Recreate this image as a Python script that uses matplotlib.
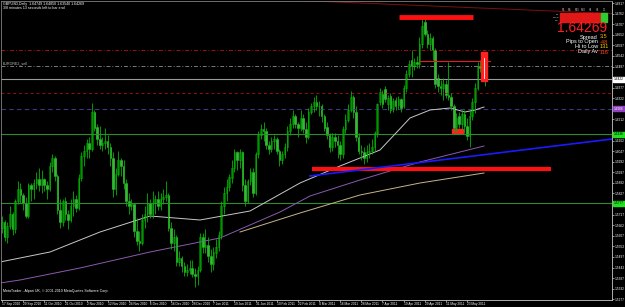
import matplotlib
matplotlib.use("Agg")
import matplotlib.pyplot as plt
from matplotlib.patches import Rectangle
import numpy as np
import pandas as pd

W, H = 625, 307
dates = pd.bdate_range("2010-09-17", "2011-06-01")

# daily prices in pips above 1.0000 (e.g. 5680 -> 1.5680)
open_p = [5650,5680,5600,5660,5720,5640,5790,5850,5820,5780,
 5710,5870,5850,5880,5900,5870,5900,5870,5850,5970,6010,5920,5740,5680,5790,5720,5690,5760,5800,5750,5910,
 6020,6050,6090,6060,6250,6170,6110,6080,6090,6100,6070,6010,5850,5930,6000,5970,5880,5790,5760,5770,5630,5580,
 5570,5690,5720,5780,5720,5780,5800,5760,5800,5810,5820,5650,5570,5600,5470,5490,5450,5420,5430,5440,5410,5400,5430,
 5600,5550,5560,5500,5460,5520,5550,5610,5760,5830,5860,5910,5960,6040,6000,6040,5870,5790,5890,5940,5830,
 6030,6130,6160,6150,6080,6060,6100,6110,6050,6000,6030,6070,6150,6190,6230,6190,6170,6220,6160,6120,
 6250,6280,6300,6280,6280,6230,6170,6130,6070,6120,6100,6080,6030,6160,6210,6260,6330,6250,6120,6050,6040,6010,6040,
 6050,6070,6140,6303,6344,6370,6292,6334,6271,6313,6287,6318,6282,6375,6448,6521,6490,6511,6500,6604,6719,
 6656,6604,6635,6573,6427,6386,6375,6396,6339,6329,6282,6167,6230,6188,6240,6178,6126,6230,6303,6375,6490,6479,
 6469]
high_p = [5710,5690,5680,5760,5730,5800,5890,5880,5830,5810,
 5880,5880,5900,5940,5960,5950,5910,5890,5990,6030,6020,5930,5800,5800,5810,5740,5800,5840,5820,5930,6040,
 6080,6110,6120,6300,6260,6190,6180,6120,6170,6130,6090,6040,5960,6050,6010,6000,5900,5830,5800,5780,5700,5630,
 5720,5760,5830,5800,5840,5820,5840,5830,5850,5890,5830,5680,5640,5610,5530,5500,5470,5460,5480,5480,5440,5450,5620,
 5620,5640,5600,5540,5550,5590,5630,5790,5860,5900,5930,6000,6060,6050,6060,6050,5900,5900,5960,5960,6040,
 6150,6190,6200,6170,6100,6120,6130,6120,6060,6050,6090,6180,6220,6260,6240,6200,6260,6240,6200,6270,
 6300,6330,6340,6310,6290,6240,6200,6140,6140,6140,6130,6100,6180,6240,6290,6360,6340,6280,6140,6080,6070,6080,6090,
 6110,6150,6300,6375,6365,6386,6339,6349,6323,6329,6334,6323,6391,6469,6521,6573,6531,6542,6641,6745,6745,
 6677,6661,6646,6583,6448,6417,6427,6417,6511,6349,6292,6245,6251,6261,6261,6219,6261,6323,6401,6511,6521,6563,
 6511]
low_p = [5620,5580,5570,5640,5610,5620,5770,5780,5740,5700,
 5700,5790,5800,5850,5840,5830,5840,5800,5840,5940,5890,5720,5650,5660,5690,5640,5680,5710,5730,5740,5890,
 5970,6010,6010,6050,6150,6080,6060,6050,6060,6030,5970,5810,5820,5920,5920,5850,5760,5720,5740,5600,5560,5530,
 5560,5650,5680,5700,5700,5720,5740,5740,5770,5790,5630,5540,5530,5450,5450,5420,5400,5400,5410,5390,5340,5350,5420,
 5520,5520,5470,5420,5430,5490,5530,5590,5720,5790,5840,5880,5940,5950,5960,5840,5760,5780,5870,5810,5820,
 6010,6110,6100,6060,6030,6040,6060,6030,5970,5980,6010,6050,6130,6170,6170,6120,6150,6140,6090,6110,
 6240,6250,6260,6230,6200,6150,6110,6040,6050,6070,6010,6000,6010,6140,6200,6250,6220,6100,6030,6000,5980,5990,6010,
 6030,6050,6120,6287,6271,6303,6261,6245,6251,6261,6266,6251,6271,6355,6433,6433,6469,6479,6479,6583,6646,
 6583,6573,6521,6375,6355,6339,6313,6323,6313,6261,6147,6147,6167,6157,6141,6105,6069,6209,6245,6365,6459,6459,
 6386]
close_p = [5680,5600,5660,5720,5640,5790,5850,5820,5780,5710,
 5870,5850,5880,5900,5870,5900,5870,5850,5970,6010,5920,5740,5680,5790,5720,5690,5760,5800,5750,5910,6020,
 6050,6090,6060,6250,6170,6110,6080,6090,6100,6070,6010,5850,5930,6000,5970,5880,5790,5760,5770,5630,5580,5570,
 5690,5720,5780,5720,5780,5800,5760,5800,5810,5820,5650,5570,5600,5470,5490,5450,5420,5430,5440,5410,5400,5430,5600,
 5550,5560,5500,5460,5520,5550,5610,5760,5830,5860,5910,5960,6040,6000,6040,5870,5790,5890,5940,5830,6030,
 6130,6160,6150,6080,6060,6100,6110,6050,6000,6030,6070,6150,6190,6230,6190,6170,6220,6160,6120,6250,
 6280,6300,6280,6280,6230,6170,6130,6070,6120,6100,6080,6030,6160,6210,6260,6330,6250,6120,6050,6040,6010,6040,6050,
 6070,6140,6290,6355,6292,6318,6323,6261,6308,6282,6318,6271,6375,6448,6500,6490,6511,6500,6604,6698,6656,
 6604,6635,6573,6396,6386,6375,6396,6339,6329,6282,6167,6219,6188,6240,6178,6126,6230,6303,6375,6490,6479,6521,
 6422]

# moving averages: (pixel x, pixel y) vertices
ma_grey = [(0, 262), (50, 252), (100, 232), (150, 216), (200, 220), (250, 211), (300, 183),
           (340, 166), (380, 150), (410, 118), (430, 110), (450, 108), (465, 112), (475, 110), (484, 107)]
ma_purple = [(0, 283), (20, 280), (80, 268), (150, 252), (220, 238), (280, 212), (310, 196),
             (360, 180), (420, 162), (484, 146)]
ma_tan = [(240, 232), (300, 213), (360, 195), (420, 183), (484, 173)]

n = min(len(dates), len(close_p), len(open_p), len(high_p), len(low_p))
x = np.arange(n)
o = 1 + np.array(open_p[:n]) / 10000
hi = 1 + np.array(high_p[:n]) / 10000
lo = 1 + np.array(low_p[:n]) / 10000
c = 1 + np.array(close_p[:n]) / 10000

def py(ypix):
    return 1.6833 - 0.00052 * np.asarray(ypix, float)
def bx(xpix):
    return (np.asarray(xpix, float) - 2) / 2.642

plt.rcParams["font.family"] = ["Liberation Sans", "DejaVu Sans"]
fig = plt.figure(figsize=(W/100, H/100), dpi=100, facecolor="black")
ax = fig.add_axes([1/W, 1 - 300/H, 611/W, 299/H], facecolor="black")
ax.set_xlim(bx(1), bx(612))
ax.set_ylim(py(300), py(1))

# horizontal objects
ax.axhline(py(50), color="#9b1010", lw=0.7, ls=(0, (4, 2, 1, 2)))
ax.axhline(py(66), color="#7a7a7a", lw=0.7, ls=(0, (4, 2, 1, 2)))
ax.axhline(py(79), color="#9a9a9a", lw=0.8)
ax.axhline(py(93), color="#9b1010", lw=0.7, ls=(0, (3, 3)))
ax.axhline(py(109), color="#3a3a80", lw=0.8, ls=(0, (4, 3)))
ax.axhline(py(134), color="#2e8b2e", lw=0.8)
ax.axhline(py(203), color="#2e8b2e", lw=0.8)
ax.plot([bx(300), bx(612)], [py(0.5), py(13.5)], color="#7a1010", lw=0.7)

for pts, col, lw in [(ma_purple, "#8a5ab0", 0.7), (ma_tan, "#c8b48c", 0.7), (ma_grey, "#c8c8c8", 0.7)]:
    xs, ys = zip(*pts)
    ax.plot(bx(xs), py(ys), color=col, lw=lw)

# candles (MT4 green-on-black: bull body black, bear body white)
for i in range(n):
    ax.vlines(x[i], lo[i], hi[i], color="#00b400", lw=0.6)
    b0, b1 = min(o[i], c[i]), max(o[i], c[i])
    fc = "black" if c[i] >= o[i] else "white"
    ax.add_patch(Rectangle((x[i] - 0.3, b0), 0.6, max(b1 - b0, 0.0002), facecolor=fc,
                           edgecolor="#00b400", lw=0.4))

# red objects
ax.plot([bx(399), bx(473)], [py(17), py(17)], color="#ff1010", lw=3.5, solid_capstyle="butt")
ax.plot([bx(420), bx(490)], [py(61), py(61)], color="#e02020", lw=0.8)
ax.plot([bx(312), bx(551)], [py(169), py(169)], color="#ff1010", lw=3.0, solid_capstyle="butt")
ax.add_patch(Rectangle((bx(452), py(133)), bx(463) - bx(452), py(129) - py(133), color="#ff2020"))
ax.add_patch(Rectangle((bx(481), py(81)), bx(487) - bx(481), py(52) - py(81), facecolor="#ff2020",
                       edgecolor="#ff2020", zorder=4))
ax.plot([bx(484), bx(484)], [py(58), py(78)], color="white", lw=0.6, zorder=5)
ax.plot([bx(310), bx(612)], [py(176), py(139)], color="#1a1aff", lw=1.2)

for s in ["left", "top"]:
    ax.spines[s].set_color("#808080")
    ax.spines[s].set_linewidth(0.6)
for s in ["right", "bottom"]:
    ax.spines[s].set_color("#c8c8c8")
    ax.spines[s].set_linewidth(0.6)

# ticks
box_rows = [79, 109, 134, 203]
yt = [v for v in 1.5277 + 0.0055 * np.arange(0, 29)
      if min(abs((1.6833 - v) / 0.00052 - b) for b in box_rows) > 5]
ax.yaxis.tick_right()
ax.set_yticks(yt)
ax.set_yticklabels([f"{v:.4f}" for v in yt])
lab_idx = list(range(0, 177, 8))
ax.set_xticks(lab_idx)
ax.set_xticklabels([f"{d.day} {d.strftime('%b %Y')}" for d in dates[lab_idx]], ha="left")
ax.tick_params(colors="white", labelsize=2.3, length=1.2, width=0.4, pad=0.6)
ax.tick_params(axis="x", pad=0.4)

def t(xp, yp, s, **kw):
    fig.text(xp / W, 1 - yp / H, s, **kw)

# axis price boxes
for yp, fc, tc in [(79, "white", "black"), (109, "#9040c0", "white"),
                   (134, "#20e020", "black"), (203, "#20e020", "black")]:
    fig.patches.append(Rectangle((613 / W, 1 - (yp + 2.5) / H), 12 / W, 5 / H,
                                 transform=fig.transFigure, color=fc, zorder=5))
    t(614, yp, f"{py(yp):.4f}", color=tc, fontsize=2.3, va="center", zorder=6)

t(3, 4, "GBPUSD,Daily  1.64749 1.64850 1.63540 1.64269", color="white", fontsize=2.6, va="center")
t(3, 8, "3/8 minutes 13 seconds left to bar end", color="white", fontsize=2.6, va="center")
t(3, 63, "EURORE2_sell", color="#c0c0c0", fontsize=2.6, va="center")
t(3, 291, "MetaTrader - Alpari UK, \u00a9 2001-2010 MetaQuotes Software Corp.", color="white",
  fontsize=2.6, va="center")

# info panel
cols = ["M1", "M5", "M15", "M30", "H1", "H4", "D1"]
for j, cl in enumerate(cols):
    x0 = 560 + j * 6.8
    t(x0 + 3.2, 10, cl, color="#c0c0c0", fontsize=1.8, ha="center", va="center")
    for r in range(3):
        col = "#2ecc2e" if j == 6 else "#e01818"
        fig.patches.append(Rectangle((x0 / W, 1 - (13 + r * 3 + 2.6) / H), 6.0 / W, 2.6 / H,
                                     transform=fig.transFigure, color=col))
for r, rl in enumerate(["MA", "MACD", "RSI"]):
    t(559, 14.3 + r * 3, rl, color="#c0c0c0", fontsize=1.6, ha="right", va="center")
t(607, 28.5, "1.64269", color="#ff2020", fontsize=10, ha="right", va="center")
stats = [("Spread", "3.5", "#ffb000"), ("Pips to Open", "-48", "#ff5000"),
         ("Hi to Low", "131", "#ffd000"), ("Daily Av", "116", "#ff4020")]
for k, (a, b, cc) in enumerate(stats):
    t(598, 37 + k * 5, a, color="white", fontsize=4, ha="right", va="center")
    t(600, 37 + k * 5, b, color=cc, fontsize=4, ha="left", va="center")

fig.savefig("out.png", dpi=100, facecolor="black")
